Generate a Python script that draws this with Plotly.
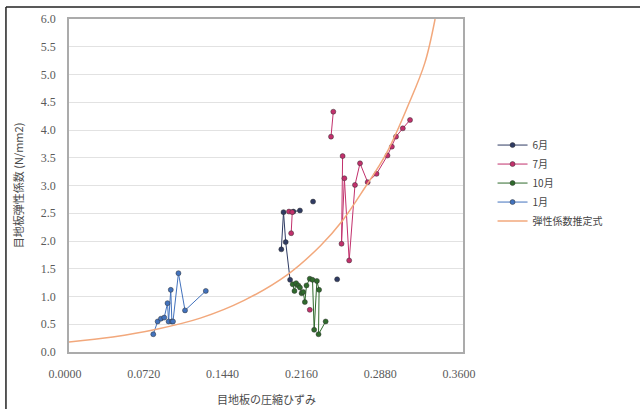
import plotly.graph_objects as go

# ---- data ----
jun_x = [0.194, 0.196, 0.198, 0.202, None, 0.205, 0.211, None, 0.223, None, 0.245]
jun_y = [1.85, 2.52, 1.98, 1.30, None, 2.53, 2.55, None, 2.71, None, 1.31]

jul_x = [0.201, 0.204, 0.203, None, 0.2394, 0.2415, None, 0.220, None,
         0.250, 0.249, 0.2516, 0.256, 0.2613, 0.2659, 0.2729, 0.281, 0.291,
         0.295, 0.2988, 0.305, 0.3116]
jul_y = [2.53, 2.52, 2.14, None, 3.88, 4.33, None, 0.76, None,
         3.53, 1.95, 3.13, 1.65, 3.01, 3.40, 3.06, 3.21, 3.54,
         3.70, 3.88, 4.03, 4.18]

oct_x = [0.2044, 0.2060, 0.2075, 0.2095, 0.2110, 0.2125, 0.2140, 0.2155,
         0.2170, 0.2200, 0.2225, 0.2240, 0.2265, 0.2285, 0.2280, 0.2345]
oct_y = [1.22, 1.10, 1.24, 1.20, 1.16, 1.06, 1.08, 0.90,
         1.20, 1.32, 1.30, 0.40, 1.28, 1.12, 0.32, 0.55]

jan_x = [0.077, 0.081, 0.084, 0.087, 0.090, 0.091, 0.093, 0.094, 0.095,
         0.100, 0.106, 0.125]
jan_y = [0.32, 0.55, 0.60, 0.62, 0.88, 0.55, 1.12, 0.55, 0.55,
         1.42, 0.75, 1.10]

est_x = [0.0, 0.04, 0.08, 0.12, 0.16, 0.20, 0.23, 0.25, 0.27, 0.29, 0.31, 0.325, 0.3345]
est_y = [0.18, 0.27, 0.41, 0.61, 0.93, 1.40, 1.92, 2.37, 2.95, 3.58, 4.45, 5.2, 6.0]

x_ticks = [0.0, 0.072, 0.144, 0.216, 0.288, 0.36]
x_tick_labels = ["0.0000", "0.0720", "0.1440", "0.2160", "0.2880", "0.3600"]
y_ticks = [0.0, 0.5, 1.0, 1.5, 2.0, 2.5, 3.0, 3.5, 4.0, 4.5, 5.0, 5.5, 6.0]
y_tick_labels = ["%.1f" % v for v in y_ticks]

series = [
    ("6月", jun_x, jun_y, "#2f3b63"),
    ("7月", jul_x, jul_y, "#c2306c"),
    ("10月", oct_x, oct_y, "#2f6a2c"),
    ("1月", jan_x, jan_y, "#4272bd"),
]

fig = go.Figure()
for name, xs, ys, col in series:
    fig.add_trace(go.Scatter(
        x=xs, y=ys, name=name, mode="lines+markers",
        line=dict(color=col, width=1),
        marker=dict(symbol="circle", size=5, color=col, line=dict(color="#333", width=0.5)),
        connectgaps=False,
    ))
fig.add_trace(go.Scatter(
    x=est_x, y=est_y, name="弾性係数推定式", mode="lines",
    line=dict(color="#f2a87c", width=1.5, shape="spline"),
))

num_font = dict(family="Liberation Serif", size=12, color="#5a5a5a")
jp_font = dict(family="Noto Sans CJK JP", size=11, color="#4a4a4a")

fig.update_layout(
    width=640, height=409,
    margin=dict(l=69, r=177, t=19, b=57),
    paper_bgcolor="white", plot_bgcolor="white",
    showlegend=True,
    legend=dict(
        x=1.075, y=0.665, xanchor="left", yanchor="top",
        font=dict(family="Noto Sans CJK JP", size=10, color="#444"),
        tracegroupgap=0, itemwidth=30,
        bgcolor="rgba(0,0,0,0)",
    ),
    xaxis=dict(
        range=[0, 0.36], tickmode="array", tickvals=x_ticks, ticktext=x_tick_labels,
        showgrid=False, zeroline=False, showline=True, linecolor="#ababab", linewidth=1.5,
        mirror=True, ticks="", tickfont=num_font, ticklabelstandoff=10, ticklabelshift=-4,
    ),
    yaxis=dict(
        range=[0, 6.0], tickmode="array", tickvals=y_ticks, ticktext=y_tick_labels,
        showgrid=True, gridcolor="#e2e2e2", gridwidth=1, zeroline=False,
        showline=True, linecolor="#ababab", linewidth=1.5, mirror=True,
        ticks="", tickfont=num_font, ticklabelstandoff=9,
    ),
    annotations=[
        dict(text="目地板の圧縮ひずみ", xref="paper", yref="paper",
             x=0.5, y=-0.14, xanchor="center", yanchor="middle",
             showarrow=False, font=jp_font),
        dict(text="目地板弾性係数 (N/mm2)", xref="paper", yref="paper",
             x=-0.13, y=0.5, xanchor="center", yanchor="middle", textangle=-90,
             showarrow=False, font=jp_font),
    ],
    shapes=[
        dict(type="line", xref="paper", yref="paper", x0=-0.16, x1=-0.16, y0=1.036, y1=-0.3,
             line=dict(color="#222", width=1.5)),
        dict(type="line", xref="paper", yref="paper", x0=-0.16, x1=1.5, y0=1.036, y1=1.036,
             line=dict(color="#222", width=1.5)),
    ],
)

fig.write_html("out.html")
